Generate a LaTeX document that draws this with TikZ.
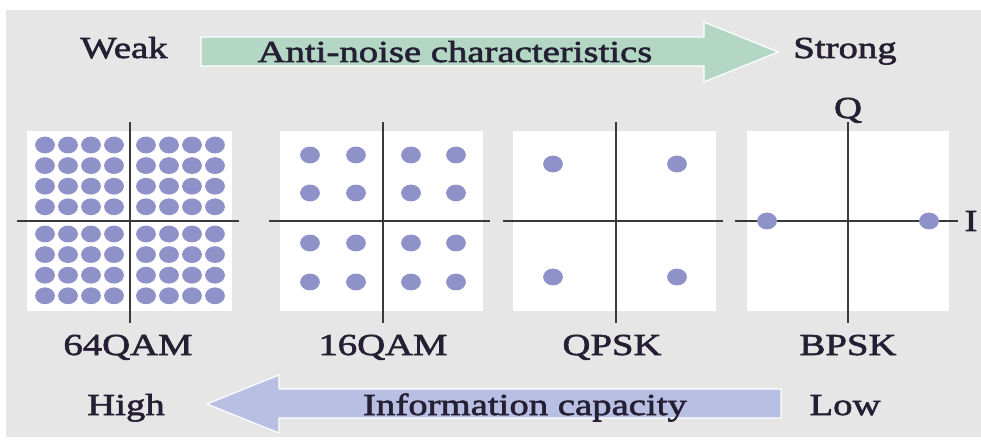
\documentclass[tikz,border=0pt]{standalone}
\usepackage{fontspec}
\setmainfont{Liberation Serif}[FakeStretch=1.27,FakeBold=2]
\definecolor{bggray}{HTML}{E6E6E6}
\definecolor{greenarrow}{HTML}{B3D6C5}
\definecolor{bluearrow}{HTML}{B9BEE3}
\definecolor{dotcol}{HTML}{8F92C9}
\definecolor{txtcol}{HTML}{241F33}
\definecolor{axiscol}{HTML}{3A3A3A}
\begin{document}
\begin{tikzpicture}[x=1pt,y=-1pt,
  lbl/.style={font=\fontsize{30.5}{32}\selectfont, text=txtcol, inner sep=0pt, anchor=base},
  panel/.style={fill=white, draw=none},
  axis/.style={draw=axiscol, line width=1.6pt},
  dotty/.style={fill=dotcol},
  arrowshape/.style={draw=white, line width=1.2pt, line join=miter}]
\useasboundingbox (0,0) rectangle (981,443);
\fill[white] (0,0) rectangle (981,443);
\fill[bggray] (6,10) rectangle (981,437);

% top arrow
\filldraw[arrowshape, fill=greenarrow] (201,37) -- (704,37) -- (704,22) -- (778,52) -- (704,82) -- (704,66) -- (201,66) -- cycle;
% bottom arrow
\filldraw[arrowshape, fill=bluearrow] (781,389) -- (279,389) -- (279,375) -- (207,404) -- (279,433) -- (279,418) -- (781,418) -- cycle;

\node[lbl] (weak) at (124,58) {Weak};
\node[lbl] (anti) at (455,62) {Anti-noise characteristics};
\node[lbl] (strong) at (845,58) {Strong};

\node[lbl] (high) at (126,415) {High};
\node[lbl] (info) at (525,415) {Information capacity};
\node[lbl] (low) at (845,415) {Low};

% panels
\fill[panel] (27,131) rectangle (232,311);
\fill[panel] (280,131) rectangle (483,311);
\fill[panel] (513,131) rectangle (716,311);
\fill[panel] (747,131) rectangle (949,311);

% 64QAM dots
\foreach \cx in {45,68,91,114,146,169,192,215}
  \foreach \cy in {145,165.6,186.2,206.8,234,254.6,275.2,295.8}
    \fill[dotty] (\cx,\cy) ellipse [x radius=9.9pt, y radius=8.4pt];
% 16QAM dots
\foreach \cx in {310,356,411,456}
  \foreach \cy in {155,193,243,282}
    \fill[dotty] (\cx,\cy) ellipse [x radius=9.9pt, y radius=8.4pt];
% QPSK dots
\foreach \cx in {553,677}
  \foreach \cy in {164,277}
    \fill[dotty] (\cx,\cy) ellipse [x radius=9.9pt, y radius=8.4pt];

% axes
\draw[axis] (17,221) -- (239,221);
\draw[axis] (130,122) -- (130,323);
\draw[axis] (269,221) -- (490,221);
\draw[axis] (383,122) -- (383,323);
\draw[axis] (503,221) -- (723,221);
\draw[axis] (616,122) -- (616,323);
\draw[axis] (735,221) -- (958,221);
\draw[axis] (848,122) -- (848,323);

% BPSK dots
\foreach \cx in {767,929}
  \fill[dotty] (\cx,221) ellipse [x radius=9.9pt, y radius=8.4pt];

\node[lbl] (q) at (848,118) {Q};
\node[lbl] (i) at (971,231) {I};

\node[lbl] (qam64) at (128,355) {64QAM};
\node[lbl] (qam16) at (383,355) {16QAM};
\node[lbl] (qpsk) at (612,355) {QPSK};
\node[lbl] (bpsk) at (848,355) {BPSK};
\end{tikzpicture}
\end{document}
